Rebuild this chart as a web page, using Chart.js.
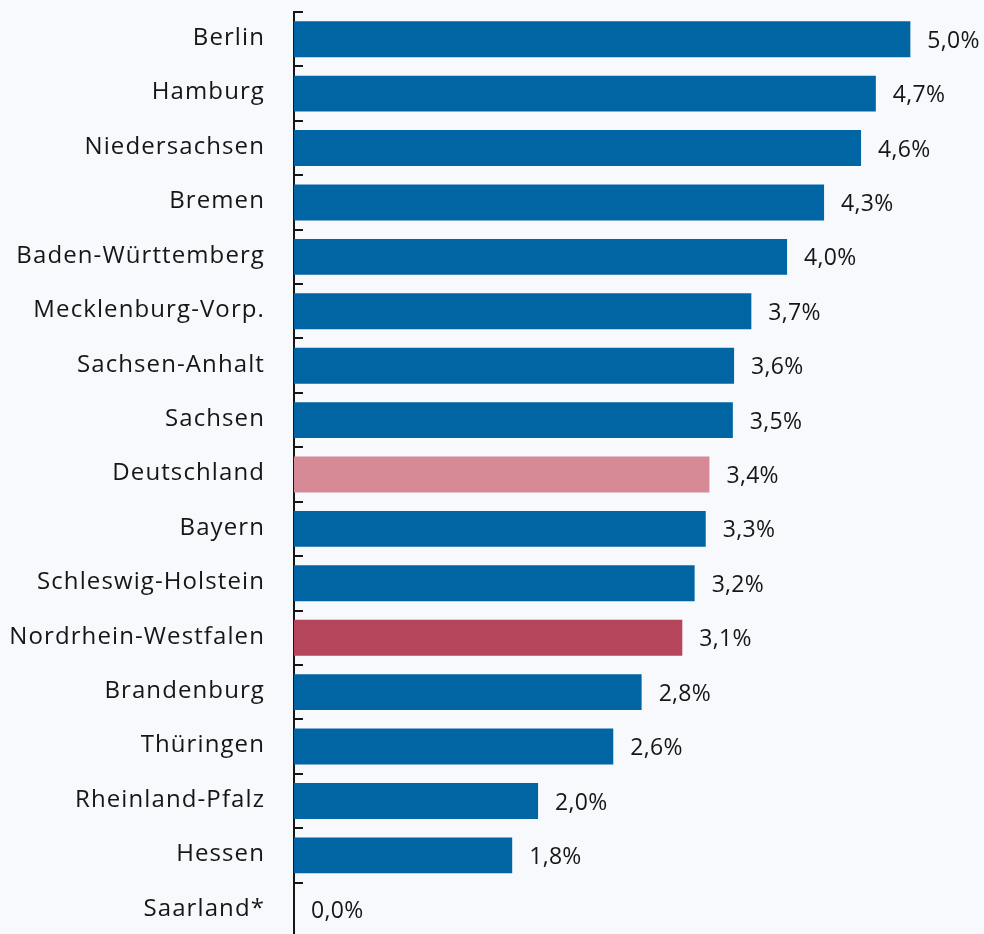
<!DOCTYPE html>
<html>
<head>
<meta charset="utf-8">
<script src="https://cdn.jsdelivr.net/npm/chart.js@4/dist/chart.umd.min.js"></script>
<style>
  html, body { margin: 0; padding: 0; background: #f8f9fc; overflow: hidden; }
  #wrap { width: 984px; height: 940px; }
</style>
</head>
<body>
<div id="wrap"><canvas id="chart" width="984" height="940"></canvas></div>
<script>
const states = [
  "Berlin", "Hamburg", "Niedersachsen", "Bremen", "Baden-Württemberg",
  "Mecklenburg-Vorp.", "Sachsen-Anhalt", "Sachsen", "Deutschland", "Bayern",
  "Schleswig-Holstein", "Nordrhein-Westfalen", "Brandenburg", "Thüringen",
  "Rheinland-Pfalz", "Hessen", "Saarland*"
];
// bar lengths
const values = [5.00, 4.72, 4.60, 4.30, 4.00, 3.71, 3.57, 3.56, 3.37, 3.34, 3.25, 3.15, 2.82, 2.59, 1.98, 1.77, 0];
// printed labels
const valueLabels = ["5,0%", "4,7%", "4,6%", "4,3%", "4,0%", "3,7%", "3,6%", "3,5%", "3,4%", "3,3%", "3,2%", "3,1%", "2,8%", "2,6%", "2,0%", "1,8%", "0,0%"];

const BLUE = "#0065a2";
const barColors = states.map(s => {
  if (s === "Deutschland") return "#d68a95";
  if (s === "Nordrhein-Westfalen") return "#b5455a";
  return BLUE;
});

const TEXT = "#161616";
const FONT = "'Open Sans', sans-serif";

// small tick marks on the inside of the axis, between categories
const axisTicks = {
  id: "axisTicks",
  afterDraw(chart) {
    const { ctx, chartArea } = chart;
    const n = states.length;
    const step = (chartArea.bottom - chartArea.top) / n;
    ctx.save();
    ctx.strokeStyle = TEXT;
    ctx.lineWidth = 2;
    for (let i = 0; i <= n; i++) {
      const y = Math.round(chartArea.top + i * step);
      ctx.beginPath();
      ctx.moveTo(chartArea.left - 1, y);
      ctx.lineTo(chartArea.left + 9, y);
      ctx.stroke();
    }
    ctx.restore();
  }
};

// category names (drawn here so letter spacing can be used)
const catLabels = {
  id: "catLabels",
  afterDraw(chart) {
    const { ctx } = chart;
    const y = chart.scales.y;
    ctx.save();
    ctx.fillStyle = TEXT;
    ctx.font = "500 24px " + FONT;
    ctx.letterSpacing = "1.1px";
    ctx.textAlign = "right";
    ctx.textBaseline = "middle";
    y.getLabels().forEach((lab, i) => {
      ctx.fillText(lab, 265, y.getPixelForTick(i) - 1);
    });
    ctx.restore();
  }
};

const valueText = {
  id: "valueText",
  afterDatasetsDraw(chart) {
    const { ctx } = chart;
    const meta = chart.getDatasetMeta(0);
    ctx.save();
    ctx.fillStyle = TEXT;
    ctx.font = "23px " + FONT;
    ctx.letterSpacing = "0.3px";
    ctx.textAlign = "left";
    ctx.textBaseline = "middle";
    meta.data.forEach((bar, i) => {
      ctx.fillText(valueLabels[i], bar.x + 17, bar.y + 2);
    });
    ctx.restore();
  }
};

new Chart(document.getElementById("chart"), {
  type: "bar",
  data: {
    labels: states,
    datasets: [{
      data: values,
      backgroundColor: barColors,
      barPercentage: 0.66,
      categoryPercentage: 1
    }]
  },
  options: {
    indexAxis: "y",
    responsive: false,
    animation: false,
    layout: { padding: { top: 12, bottom: 3, right: 12, left: 0 } },
    plugins: {
      legend: { display: false },
      tooltip: { enabled: false }
    },
    scales: {
      x: { display: false, min: 0, max: 5.5 },
      y: {
        grid: { display: false, drawTicks: false },
        border: { display: true, color: TEXT, width: 2 },
        ticks: { display: false },
        afterFit(scale) {
          scale.width = 294;
          scale.paddingTop = 0;
          scale.paddingBottom = 0;
        }
      }
    }
  },
  plugins: [axisTicks, valueText, catLabels]
});
</script>
</body>
</html>
